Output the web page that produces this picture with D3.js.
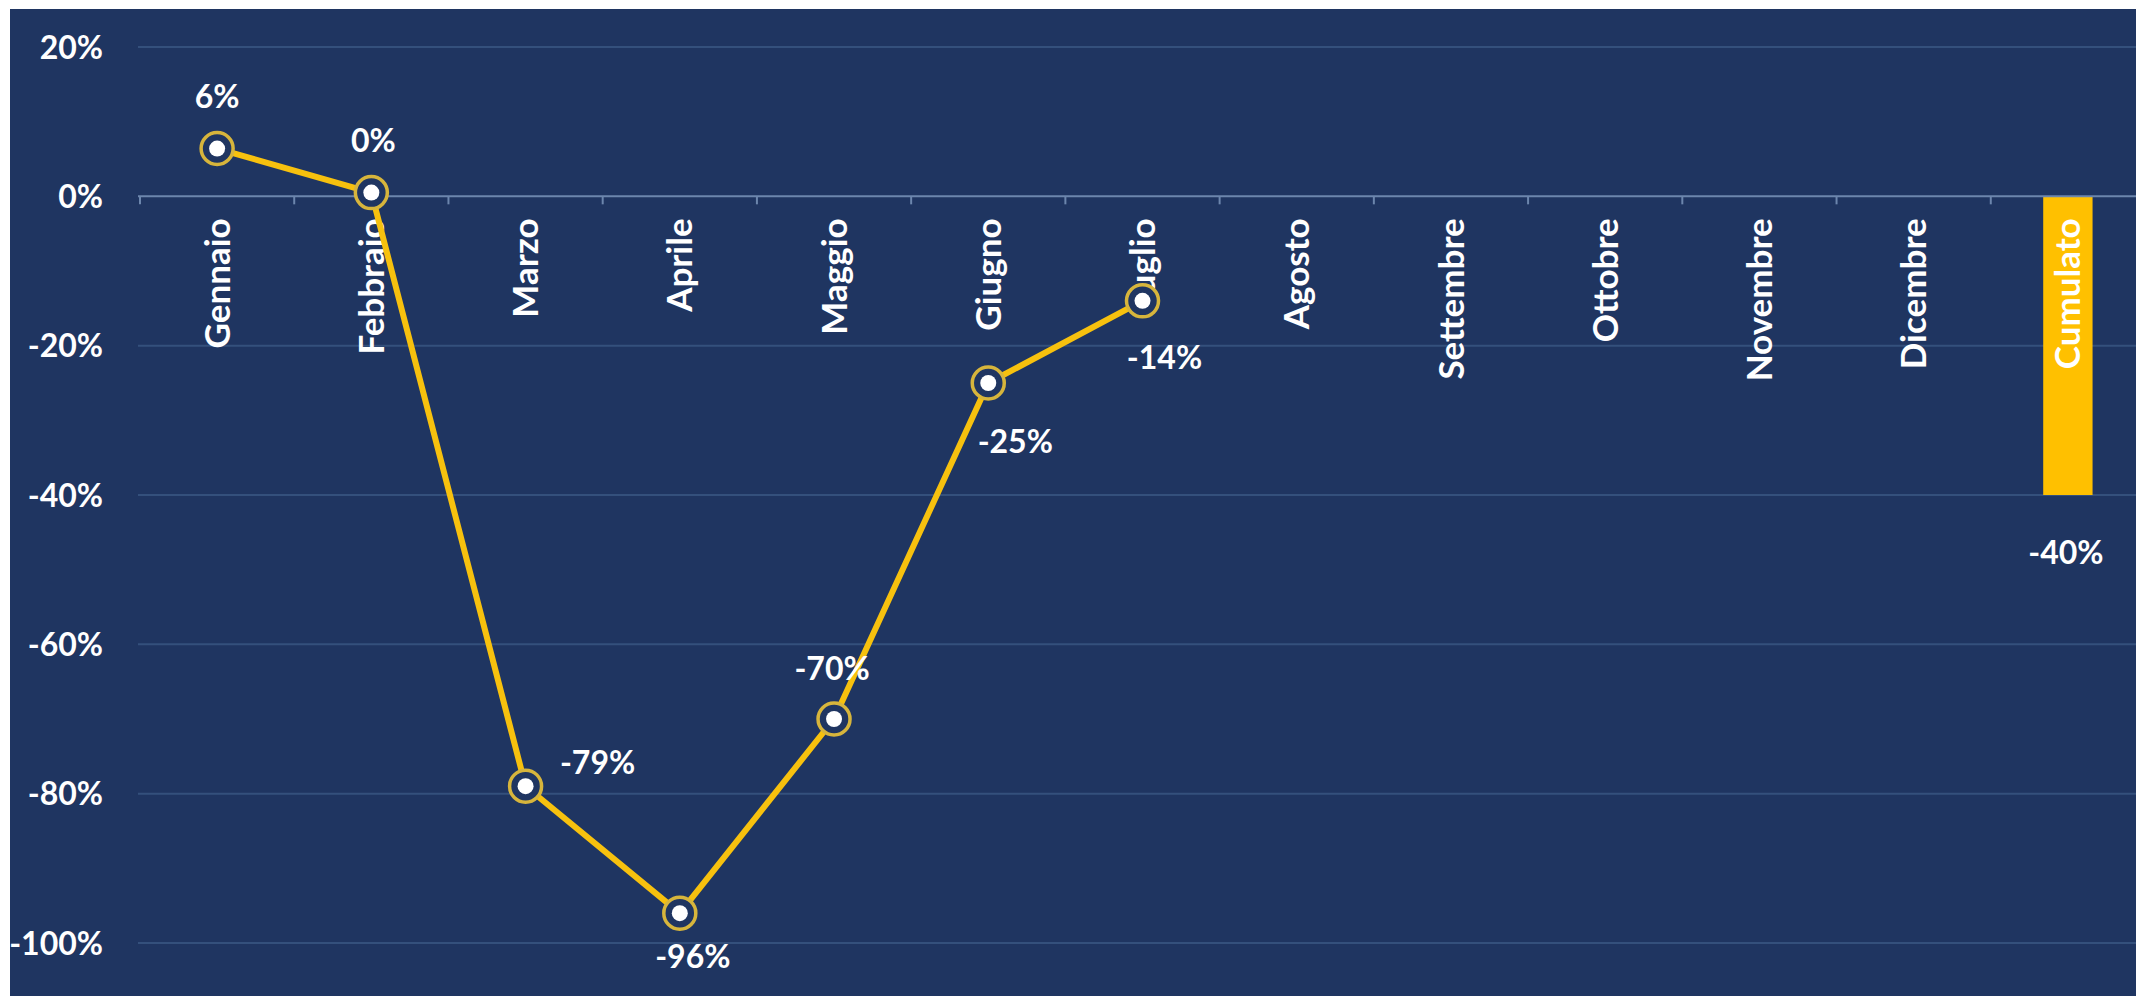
<!DOCTYPE html>
<html>
<head>
<meta charset="utf-8">
<script src="https://cdn.jsdelivr.net/npm/d3@7"></script>
<style>
  body { margin: 0; background: #ffffff; }
  svg { display: block; font-family: Lato, "Open Sans", sans-serif; font-weight: 700; }
</style>
</head>
<body>
<svg id="CHART"></svg>
<script>
// mesi + cumulato
const categories = ["Gennaio", "Febbraio", "Marzo", "Aprile", "Maggio", "Giugno", "Luglio",
  "Agosto", "Settembre", "Ottobre", "Novembre", "Dicembre", "Cumulato"];
const monthValues = [6.4, 0.5, -79, -96, -70, -25, -14];
const monthLabels = ["6%", "0%", "-79%", "-96%", "-70%", "-25%", "-14%"];
const cumulatoValue = -40;
const cumulatoLabel = "-40%";
const yTicks = [20, 0, -20, -40, -60, -80, -100];

const width = 2136;
const height = 996;
const bg = "#1f3561";
const gold = "#f7c10e";

// posizione etichette (dx, dy) rispetto al punto
const labelOffsets = [[0, -52], [2, -52], [72, -24], [13, 43], [-2, -51], [27, 58], [22, 57]];

const svg = d3.select("#CHART").attr("width", width).attr("height", height);

svg.append("rect")
  .attr("x", 10).attr("y", 9)
  .attr("width", width - 10).attr("height", height - 9)
  .attr("fill", bg);

const x = d3.scaleBand().domain(categories).range([140, 2145]).padding(0);
const y = d3.scaleLinear().domain([-100, 20]).range([943, 47]);

// griglia
svg.append("g")
  .selectAll("line")
  .data(yTicks.filter((d) => d !== 0))
  .join("line")
  .attr("x1", 138).attr("x2", width)
  .attr("y1", (d) => y(d)).attr("y2", (d) => y(d))
  .attr("stroke", "#34507c")
  .attr("stroke-width", 2);

// etichette asse y
svg.append("g")
  .selectAll("text")
  .data(yTicks)
  .join("text")
  .attr("x", 103)
  .attr("y", (d) => y(d))
  .attr("dy", "0.36em")
  .attr("text-anchor", "end")
  .attr("fill", "#ffffff")
  .style("font-size", "32px")
  .text((d) => d + "%");

// barra cumulato
const barW = x.bandwidth() * 0.32;
svg.append("rect")
  .attr("x", x("Cumulato") + (x.bandwidth() - barW) / 2)
  .attr("y", y(0))
  .attr("width", barW)
  .attr("height", y(cumulatoValue) - y(0))
  .attr("fill", "#ffc000");

// asse x (linea dello zero + tacche)
svg.append("line")
  .attr("x1", 138).attr("x2", width)
  .attr("y1", y(0)).attr("y2", y(0))
  .attr("stroke", "#6c86ad")
  .attr("stroke-width", 2);
svg.append("g")
  .selectAll("line")
  .data(categories)
  .join("line")
  .attr("x1", (d) => x(d)).attr("x2", (d) => x(d))
  .attr("y1", y(0)).attr("y2", y(0) + 8)
  .attr("stroke", "#6c86ad")
  .attr("stroke-width", 2);

// etichette categorie ruotate
svg.append("g")
  .selectAll("text")
  .data(categories)
  .join("text")
  .attr("transform", (d) => `translate(${x(d) + x.bandwidth() / 2},${y(0) + 22}) rotate(-90)`)
  .attr("dy", "0.36em")
  .attr("text-anchor", "end")
  .attr("fill", "#ffffff")
  .style("font-size", "35px")
  .text((d) => d);

// linea mensile
const pts = monthValues.map((v, i) => ({ cat: categories[i], v: v, label: monthLabels[i], off: labelOffsets[i] }));
const cx = (d) => x(d.cat) + x.bandwidth() / 2;

svg.append("path")
  .datum(pts)
  .attr("fill", "none")
  .attr("stroke", gold)
  .attr("stroke-width", 6)
  .attr("stroke-linejoin", "round")
  .attr("d", d3.line().x(cx).y((d) => y(d.v)));

const marker = svg.append("g")
  .selectAll("g")
  .data(pts)
  .join("g")
  .attr("transform", (d) => `translate(${cx(d)},${y(d.v)})`);
marker.append("circle")
  .attr("r", 16)
  .attr("fill", bg)
  .attr("stroke", "#d7b53c")
  .attr("stroke-width", 3.5);
marker.append("circle")
  .attr("r", 8)
  .attr("fill", "#ffffff");

// etichette dati
svg.append("g")
  .selectAll("text")
  .data(pts)
  .join("text")
  .attr("x", (d) => cx(d) + d.off[0])
  .attr("y", (d) => y(d.v) + d.off[1])
  .attr("dy", "0.36em")
  .attr("text-anchor", "middle")
  .attr("fill", "#ffffff")
  .style("font-size", "32px")
  .text((d) => d.label);

svg.append("text")
  .attr("x", x("Cumulato") + x.bandwidth() / 2 - 2)
  .attr("y", y(cumulatoValue) + 57)
  .attr("dy", "0.36em")
  .attr("text-anchor", "middle")
  .attr("fill", "#ffffff")
  .style("font-size", "32px")
  .text(cumulatoLabel);
</script>
</body>
</html>
